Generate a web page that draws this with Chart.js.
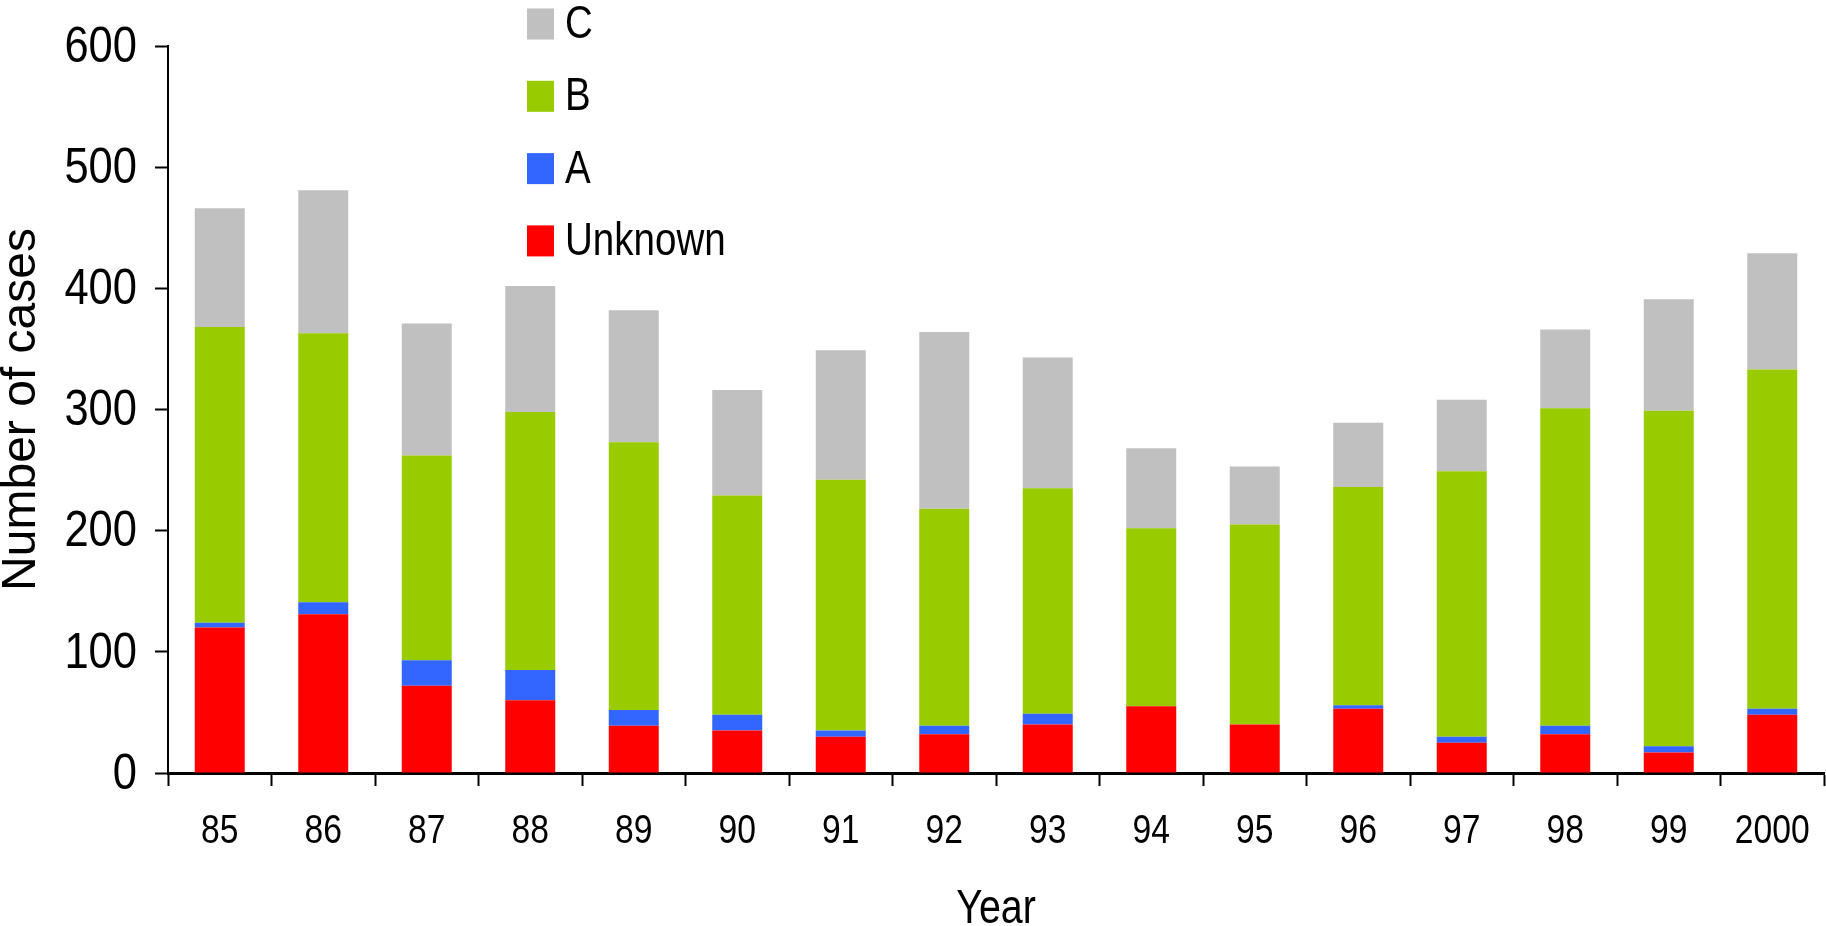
<!DOCTYPE html>
<html>
<head>
<meta charset="utf-8">
<script src="https://cdn.jsdelivr.net/npm/chart.js@4.4.1/dist/chart.umd.min.js"></script>
<style>
  html, body { margin: 0; padding: 0; background: #ffffff; }
  #wrap { position: relative; width: 1826px; height: 926px; }
</style>
</head>
<body>
<div id="wrap"><canvas id="chart" width="1826" height="926"></canvas></div>
<script>
// Cases per year, split by type (stacked bottom to top: Unknown, A, B, C)
const years = ['85', '86', '87', '88', '89', '90', '91', '92', '93', '94', '95', '96', '97', '98', '99', '2000'];
const unknownCases = [120, 131, 72, 60, 39, 35, 30, 32, 40, 55, 40, 53, 25, 32, 17, 48];
const typeA        = [  4,  10, 21, 25, 13, 13,  5,  7,  9,  0,  0,  3,  5,  7,  5,  5];
const typeB        = [244, 222, 169, 213, 221, 181, 207, 179, 186, 147, 165, 180, 219, 262, 277, 280];
const typeC        = [ 98, 118, 109, 104, 109, 87, 107, 146, 108, 66, 48, 53, 59, 65, 92, 96];
const yTicks = [0, 100, 200, 300, 400, 500, 600];

const REGULAR = "'Liberation Sans', Arial, Helvetica, sans-serif";

// Writes a horizontally condensed line of text centred vertically on (x, y)
function narrowText(ctx, text, x, y, size, align, squeeze) {
  ctx.save();
  ctx.translate(x, y);
  ctx.scale(squeeze, 1);
  ctx.font = size + 'px ' + REGULAR;
  ctx.textAlign = align;
  ctx.textBaseline = 'middle';
  ctx.fillStyle = '#000000';
  ctx.fillText(text, 0, 0);
  ctx.restore();
}

// Condensed tick labels, x-axis title and vertical legend
const condensedText = {
  id: 'condensedText',
  afterDraw(chart, args, opts) {
    const ctx = chart.ctx;
    const xs = chart.scales.x;
    const ys = chart.scales.y;

    ys.ticks.forEach(t => {
      narrowText(ctx, String(t.value), ys.right - opts.yLabelGap,
        ys.getPixelForValue(t.value) + opts.yLabelShift, opts.yTickSize, 'right', opts.yTickSqueeze);
    });
    chart.data.labels.forEach((lab, i) => {
      narrowText(ctx, lab, xs.getPixelForValue(i), xs.top + opts.xLabelOffset, opts.xTickSize, 'center', 0.82);
    });
    narrowText(ctx, opts.xTitle, (xs.left + xs.right) / 2, xs.top + opts.xTitleOffset, opts.xTitleSize, 'center', 0.82);

    const sets = chart.data.datasets.slice().reverse();
    const lg = opts.legend;
    sets.forEach((ds, i) => {
      const cy = lg.y + i * lg.rowGap;
      ctx.fillStyle = ds.backgroundColor;
      ctx.fillRect(lg.x, cy - lg.boxH / 2, lg.boxW, lg.boxH);
      narrowText(ctx, ds.label, lg.x + lg.boxW + lg.textGap, cy + 1, lg.fontSize, 'left', 0.82);
    });
  }
};

new Chart(document.getElementById('chart'), {
  type: 'bar',
  data: {
    labels: years,
    datasets: [
      { label: 'Unknown', data: unknownCases, backgroundColor: '#FF0000' },
      { label: 'A',       data: typeA,        backgroundColor: '#3366FF' },
      { label: 'B',       data: typeB,        backgroundColor: '#99CC00' },
      { label: 'C',       data: typeC,        backgroundColor: '#C0C0C0' }
    ]
  },
  options: {
    responsive: false,
    animation: false,
    layout: { padding: { top: 46, right: 2, left: 0, bottom: 0 } },
    datasets: {
      bar: { categoryPercentage: 1.0, barPercentage: 0.483, borderWidth: 0 }
    },
    plugins: {
      legend: { display: false },
      tooltip: { enabled: false },
      condensedText: {
        yTickSize: 50,
        yTickSqueeze: 0.87,
        yLabelGap: 31,
        yLabelShift: 2,
        xTickSize: 41,
        xLabelOffset: 59,
        xTitle: 'Year',
        xTitleSize: 48,
        xTitleOffset: 137,
        legend: { x: 527, y: 24, rowGap: 72.3, boxW: 27, boxH: 31, textGap: 11, fontSize: 47 }
      }
    },
    scales: {
      x: {
        stacked: true,
        offset: true,
        grid: {
          offset: true,
          drawOnChartArea: false,
          drawTicks: true,
          tickLength: 13,
          tickWidth: 2,
          tickColor: '#000000'
        },
        border: { display: true, color: '#000000', width: 3 },
        ticks: { display: false, autoSkip: false, maxRotation: 0 },
        afterFit(scale) {
          scale.height = 153;
          scale.paddingLeft = 0;
          scale.paddingRight = 0;
        }
      },
      y: {
        stacked: true,
        min: 0,
        max: 600,
        afterBuildTicks(scale) {
          scale.ticks = yTicks.map(v => ({ value: v }));
        },
        grid: {
          drawOnChartArea: false,
          drawTicks: true,
          tickLength: 13,
          tickWidth: 2,
          tickColor: '#000000'
        },
        border: { display: true, color: '#000000', width: 2 },
        ticks: { display: false },
        title: {
          display: true,
          text: 'Number of cases',
          color: '#000000',
          font: { family: REGULAR, size: 48, lineHeight: 1.0 },
          padding: { top: -2, bottom: 0 }
        },
        afterFit(scale) {
          scale.width = 168;
          scale.paddingTop = 0;
          scale.paddingBottom = 0;
        }
      }
    }
  },
  plugins: [condensedText]
});
</script>
</body>
</html>
